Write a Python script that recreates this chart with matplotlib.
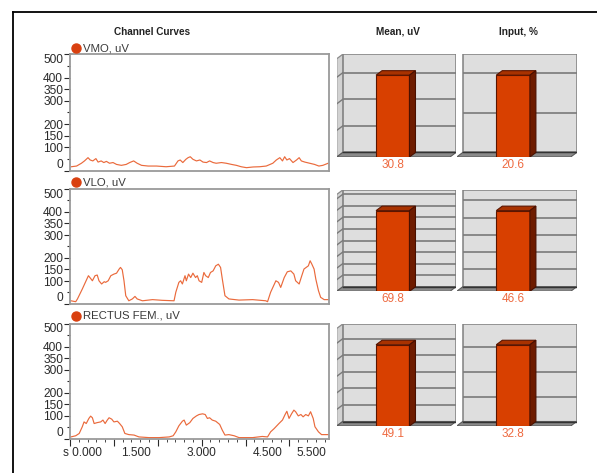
import numpy as np
import matplotlib
matplotlib.use("Agg")
import matplotlib.pyplot as plt
from matplotlib.patches import Rectangle, Polygon
from matplotlib.lines import Line2D
import matplotlib.transforms as mtransforms

plt.rcParams['font.family'] = ['Liberation Sans', 'DejaVu Sans']

# --- data ---
channels = ['VMO, uV', 'VLO, uV', 'RECTUS FEM., uV']
mean_uv = [30.8, 69.8, 49.1]
input_pct = [20.6, 46.6, 32.8]

vmo_t = [0.03, 0.15, 0.26, 0.33, 0.41, 0.46, 0.52, 0.59, 0.64, 0.71, 0.77, 0.83, 0.90, 0.98,
         1.06, 1.17, 1.28, 1.36, 1.45, 1.53, 1.63, 1.78, 1.97, 2.19, 2.38, 2.46, 2.51, 2.57,
         2.64, 2.69, 2.74, 2.80, 2.88, 2.96, 3.03, 3.11, 3.18, 3.26, 3.33, 3.45, 3.56, 3.68,
         3.79, 3.90, 4.02, 4.17, 4.32, 4.47, 4.62, 4.70, 4.78, 4.84, 4.89, 4.94, 5.00, 5.08,
         5.16, 5.22, 5.27, 5.35, 5.46, 5.57, 5.67, 5.76, 5.88]
vmo_v = [17, 20, 32, 42, 56, 46, 42, 52, 37, 42, 35, 40, 32, 35,
         27, 23, 27, 35, 42, 32, 23, 20, 20, 17, 20, 42, 46, 35,
         49, 56, 60, 49, 42, 46, 37, 35, 42, 35, 32, 35, 32, 27,
         23, 17, 13, 16, 17, 20, 32, 46, 56, 42, 60, 46, 52, 35,
         46, 56, 42, 37, 32, 27, 20, 23, 32]

vlo_t = [0.02, 0.13, 0.17, 0.28, 0.40, 0.42, 0.47, 0.51, 0.57, 0.62, 0.66, 0.72, 0.78, 0.81,
         0.87, 0.93, 1.00, 1.06, 1.12, 1.15, 1.19, 1.23, 1.27, 1.34, 1.42, 1.48, 1.53, 1.65,
         1.88, 2.10, 2.37, 2.41, 2.48, 2.52, 2.56, 2.62, 2.65, 2.70, 2.75, 2.80, 2.86, 2.90,
         2.94, 3.00, 3.05, 3.09, 3.15, 3.20, 3.26, 3.32, 3.38, 3.43, 3.47, 3.53, 3.62, 3.85,
         4.16, 4.46, 4.50, 4.57, 4.69, 4.75, 4.80, 4.88, 4.95, 5.03, 5.10, 5.14, 5.22, 5.28,
         5.33, 5.38, 5.43, 5.47, 5.51, 5.56, 5.60, 5.66, 5.71, 5.79, 5.90]
vlo_v = [14, 10, 22, 65, 115, 123, 111, 101, 123, 126, 101, 87, 97, 94,
         101, 123, 130, 134, 152, 159, 149, 101, 36, 14, 22, 33, 22, 14,
         19, 16, 14, 51, 94, 101, 87, 123, 101, 130, 115, 134, 115, 123,
         101, 94, 137, 123, 115, 137, 144, 166, 173, 159, 108, 36, 22, 17,
         19, 14, 10, 51, 101, 94, 72, 115, 140, 144, 130, 101, 87, 123,
         152, 159, 166, 188, 173, 152, 108, 58, 29, 19, 19]

rf_t = [0.02, 0.13, 0.21, 0.28, 0.32, 0.37, 0.43, 0.47, 0.51, 0.55, 0.62, 0.70, 0.75, 0.80,
        0.85, 0.89, 0.95, 1.00, 1.08, 1.13, 1.19, 1.25, 1.34, 1.46, 1.57, 1.80, 2.03, 2.26,
        2.35, 2.41, 2.48, 2.56, 2.60, 2.65, 2.73, 2.80, 2.88, 2.94, 3.02, 3.08, 3.13, 3.18,
        3.24, 3.32, 3.41, 3.47, 3.53, 3.62, 3.74, 3.85, 4.16, 4.38, 4.50, 4.57, 4.65, 4.76,
        4.84, 4.90, 4.94, 4.99, 5.05, 5.10, 5.14, 5.20, 5.26, 5.31, 5.37, 5.43, 5.48, 5.54,
        5.58, 5.66, 5.73, 5.90]
rf_v = [9, 14, 24, 53, 74, 67, 89, 99, 92, 67, 71, 74, 82, 67,
        82, 92, 86, 74, 77, 67, 53, 24, 19, 17, 9, 6, 6, 9,
        14, 31, 57, 77, 82, 60, 71, 89, 100, 106, 109, 106, 89, 92,
        82, 77, 63, 38, 17, 19, 14, 6, 6, 11, 9, 31, 45, 67,
        82, 106, 120, 89, 110, 125, 118, 100, 106, 96, 106, 100, 118, 89,
        53, 31, 19, 19]

curves = [(vmo_t, vmo_v), (vlo_t, vlo_v), (rf_t, rf_v)]
y_major = [0, 100, 150, 200, 300, 350, 400, 500]
y_minor = [50, 250, 450]
x_labels = [(1.5, '1.500'), (3.0, '3.000'), (4.5, '4.500'), (5.5, '5.500')]

W, H = 597, 473
fig = plt.figure(figsize=(W / 100, H / 100), dpi=100)


def px_rect(x0, y0, x1, y1):
    return [x0 / W, 1 - y1 / H, (x1 - x0) / W, (y1 - y0) / H]


# outer frame (only top and left visible)
fig.add_artist(Line2D([13 / W, 1], [1 - 12 / H, 1 - 12 / H], color='black', lw=1.3))
fig.add_artist(Line2D([13 / W, 13 / W], [1 - 12 / H, 0], color='black', lw=1.3))

# titles
fig.text(152 / W, 1 - 32 / H, 'Channel Curves', ha='center', va='center', fontsize=7.2, fontweight='bold', color='#222')
fig.text(398 / W, 1 - 32 / H, 'Mean, uV', ha='center', va='center', fontsize=7.2, fontweight='bold', color='#222')
fig.text(518 / W, 1 - 32 / H, 'Input, %', ha='center', va='center', fontsize=7.2, fontweight='bold', color='#222')

line_rows = [(54.3, 170.7), (189, 304), (323.5, 439)]
legend_y = [48.3, 182.3, 315.7]
bar_rows = [(54.3, 157), (190, 291.3), (324, 426)]

for i, (t, v) in enumerate(curves):
    top, bot = line_rows[i]
    ax = fig.add_axes(px_rect(70, top, 329, bot))
    ax.plot(t, v, color='#EA6A3C', lw=0.85)
    ax.set_xlim(0, 5.9)
    ax.set_ylim(0, 500)
    for s in ax.spines.values():
        s.set_color('#9a9a9a')
        s.set_linewidth(1.3)
    ax.set_yticks(y_major)
    ax.set_yticks(y_minor, minor=True)
    ax.set_yticklabels([str(y) for y in y_major])
    ax.tick_params(axis='y', which='major', length=4, width=0.8, pad=1, labelsize=8.6, colors='#2a2a2a')
    ax.tick_params(axis='y', which='minor', length=2, width=0.8, colors='#2a2a2a')
    labs = ax.get_yticklabels()
    labs[0].set_va('bottom')
    labs[-1].set_va('top')
    if i < 2:
        ax.set_xticks([])
    else:
        ax.set_xticks(np.arange(0, 6, 1))
        ax.set_xticklabels([])
        ax.set_xticks(np.arange(0, 5.9, 0.2), minor=True)
        ax.tick_params(axis='x', which='major', length=5, width=0.8, colors='#2a2a2a')
        ax.tick_params(axis='x', which='minor', length=2, width=0.6, colors='#2a2a2a')
        tr = mtransforms.blended_transform_factory(ax.transData, ax.transAxes)
        off = mtransforms.ScaledTranslation(-7 / 100, 0, fig.dpi_scale_trans)
        ax.text(0, -0.12, 's 0.000', transform=tr + off, ha='left', va='center', fontsize=8.6, color='#2a2a2a')
        for xv, lab in x_labels:
            ax.text(xv, -0.12, lab, transform=tr, ha='center', va='center', fontsize=8.6, color='#2a2a2a')
    # legend dot + label
    fig.text(83.3 / W, 1 - legend_y[i] / H, channels[i], ha='left', va='center', fontsize=8.2, color='#3a3a3a')
    fig.add_artist(Line2D([76 / W], [1 - legend_y[i] / H], marker='o', ms=6.5, color='#D94010', lw=0))

DX, DY = 6.0, 4.5


def bar_box(x0, x1, top, bot, value, left_wall):
    ax = fig.add_axes(px_rect(x0, top, x1, bot))
    wpx, hpx = x1 - x0, bot - top
    vmax = value * 1.2
    oy = DY * vmax / (hpx - DY)
    ox = DX / wpx
    ax.set_xlim(0, 1)
    ax.set_ylim(-oy, vmax)
    ax.axis('off')
    ax.add_patch(Rectangle((ox, 0), 1 - ox, vmax, fc='#dedede', ec='#808080', lw=1.1, zorder=1))
    grid = np.arange(10, vmax, 10)
    ax.hlines(grid, ox, 1, colors='#7a7a7a', lw=1.2, zorder=2)
    if left_wall:
        ax.add_patch(Polygon([(0, -oy), (ox, 0), (ox, vmax), (0, vmax - oy)], closed=True,
                             fc='#d2d2d2', ec='#8a8a8a', lw=0.9, zorder=2))
        for g in grid:
            ax.plot([0, ox], [g - oy, g], color='#7a7a7a', lw=1.0, zorder=3)
    ax.add_patch(Polygon([(0, -oy), (1 - ox, -oy), (1, 0), (ox, 0)], closed=True,
                         fc='#8a8a8a', ec='#5a5a5a', lw=0.8, zorder=3))
    ax.plot([ox, 1], [0, 0], color='#333', lw=1.0, zorder=3)
    bx, bw = 0.47, 0.28
    ax.bar(bx, value, bottom=-oy, width=bw, color='#D84000', edgecolor='#5a1500', lw=0.8, zorder=5)
    xl, xr = bx - bw / 2, bx + bw / 2
    ax.add_patch(Polygon([(xl, value - oy), (xr, value - oy), (xr + ox, value), (xl + ox, value)],
                         closed=True, fc='#A83200', ec='#5a1500', lw=0.8, zorder=5))
    ax.add_patch(Polygon([(xr, -oy), (xr + ox, 0), (xr + ox, value), (xr, value - oy)],
                         closed=True, fc='#6E1C00', ec='#4a1000', lw=0.8, zorder=5))
    ax.annotate(f'{value:.1f}', xy=(bx, -oy), xycoords='data', xytext=(0, -1.5),
                textcoords='offset points', ha='center', va='top', fontsize=8.5,
                color='#EE6A40', annotation_clip=False)


for i in range(3):
    top, bot = bar_rows[i]
    bar_box(336.7, 456, top, bot, mean_uv[i], True)
    bar_box(456.7, 576.7, top, bot, input_pct[i], False)

fig.savefig('out.png', dpi=100)
